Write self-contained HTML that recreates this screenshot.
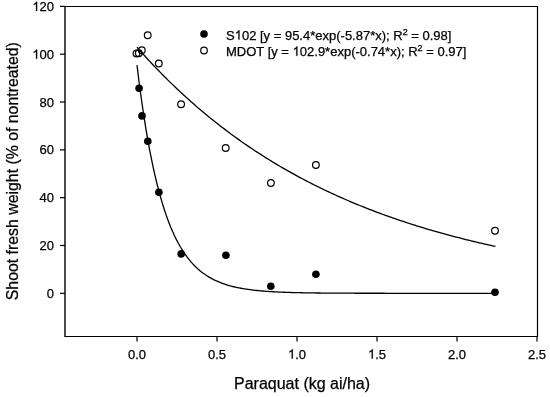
<!DOCTYPE html>
<html><head><meta charset="utf-8"><style>
html,body{margin:0;padding:0;background:#fff;width:550px;height:397px;overflow:hidden}
svg{display:block;filter:grayscale(1)}
text{font-family:"Liberation Sans",sans-serif;stroke:#000;stroke-width:0.25px}
</style></head><body>
<svg width="550" height="397" viewBox="0 0 550 397">
<rect width="550" height="397" fill="#fff"/>
<g fill="none" stroke="#000">
<line x1="65" y1="6.5" x2="537.5" y2="6.5" stroke-width="1.2"/>
<line x1="537.5" y1="6" x2="537.5" y2="336.5" stroke-width="1.2"/>
<line x1="65" y1="336.5" x2="538" y2="336.5" stroke-width="1.2"/>
<line x1="65" y1="6" x2="65" y2="337" stroke-width="1.42"/>
<line x1="60" y1="6.38" x2="65" y2="6.38" stroke-width="1.2"/>
<line x1="60" y1="54.20" x2="65" y2="54.20" stroke-width="1.2"/>
<line x1="60" y1="102.02" x2="65" y2="102.02" stroke-width="1.2"/>
<line x1="60" y1="149.84" x2="65" y2="149.84" stroke-width="1.2"/>
<line x1="60" y1="197.66" x2="65" y2="197.66" stroke-width="1.2"/>
<line x1="60" y1="245.48" x2="65" y2="245.48" stroke-width="1.2"/>
<line x1="60" y1="293.30" x2="65" y2="293.30" stroke-width="1.2"/>
<line x1="137.00" y1="336" x2="137.00" y2="341.5" stroke-width="1.2"/>
<line x1="217.00" y1="336" x2="217.00" y2="341.5" stroke-width="1.2"/>
<line x1="297.00" y1="336" x2="297.00" y2="341.5" stroke-width="1.2"/>
<line x1="377.00" y1="336" x2="377.00" y2="341.5" stroke-width="1.2"/>
<line x1="457.00" y1="336" x2="457.00" y2="341.5" stroke-width="1.2"/>
<line x1="537.00" y1="336" x2="537.00" y2="341.5" stroke-width="1.2"/>
</g>
<path d="M137.00,65.20 L138.79,79.71 L140.58,93.30 L142.38,106.03 L144.17,117.94 L145.96,129.10 L147.75,139.55 L149.54,149.33 L151.34,158.49 L153.13,167.07 L154.92,175.10 L156.71,182.62 L158.50,189.67 L160.30,196.26 L162.09,202.44 L163.88,208.22 L165.67,213.63 L167.46,218.70 L169.26,223.45 L171.05,227.89 L172.84,232.05 L174.63,235.95 L176.42,239.60 L178.22,243.02 L180.01,246.22 L181.80,249.21 L183.59,252.02 L185.38,254.64 L187.18,257.10 L188.97,259.41 L190.76,261.56 L192.55,263.58 L194.34,265.47 L196.14,267.24 L197.93,268.90 L199.72,270.45 L201.51,271.91 L203.30,273.27 L205.10,274.54 L206.89,275.74 L208.68,276.85 L210.47,277.90 L212.26,278.88 L214.06,279.80 L215.85,280.66 L217.64,281.46 L219.43,282.22 L221.22,282.92 L223.02,283.58 L224.81,284.20 L226.60,284.78 L228.39,285.32 L230.18,285.83 L231.98,286.30 L233.77,286.75 L235.56,287.17 L237.35,287.56 L239.14,287.92 L240.94,288.26 L242.73,288.58 L244.52,288.88 L246.31,289.17 L248.10,289.43 L249.90,289.67 L251.69,289.91 L253.48,290.12 L255.27,290.32 L257.06,290.51 L258.86,290.69 L260.65,290.86 L262.44,291.01 L264.23,291.16 L266.02,291.29 L267.82,291.42 L269.61,291.54 L271.40,291.65 L273.19,291.76 L274.98,291.86 L276.78,291.95 L278.57,292.03 L280.36,292.11 L282.15,292.19 L283.94,292.26 L285.74,292.33 L287.53,292.39 L289.32,292.45 L291.11,292.50 L292.90,292.55 L294.70,292.60 L296.49,292.64 L298.28,292.69 L300.07,292.72 L301.86,292.76 L303.66,292.80 L305.45,292.83 L307.24,292.86 L309.03,292.89 L310.82,292.91 L312.62,292.94 L314.41,292.96 L316.20,292.98 L317.99,293.00 L319.78,293.02 L321.58,293.04 L323.37,293.06 L325.16,293.07 L326.95,293.09 L328.74,293.10 L330.54,293.11 L332.33,293.12 L334.12,293.14 L335.91,293.15 L337.70,293.16 L339.50,293.16 L341.29,293.17 L343.08,293.18 L344.87,293.19 L346.66,293.20 L348.46,293.20 L350.25,293.21 L352.04,293.21 L353.83,293.22 L355.62,293.23 L357.42,293.23 L359.21,293.23 L361.00,293.24 L362.79,293.24 L364.58,293.25 L366.38,293.25 L368.17,293.25 L369.96,293.26 L371.75,293.26 L373.54,293.26 L375.34,293.26 L377.13,293.27 L378.92,293.27 L380.71,293.27 L382.50,293.27 L384.30,293.27 L386.09,293.28 L387.88,293.28 L389.67,293.28 L391.46,293.28 L393.26,293.28 L395.05,293.28 L396.84,293.28 L398.63,293.28 L400.42,293.29 L402.22,293.29 L404.01,293.29 L405.80,293.29 L407.59,293.29 L409.38,293.29 L411.18,293.29 L412.97,293.29 L414.76,293.29 L416.55,293.29 L418.34,293.29 L420.14,293.29 L421.93,293.29 L423.72,293.29 L425.51,293.29 L427.30,293.29 L429.10,293.29 L430.89,293.30 L432.68,293.30 L434.47,293.30 L436.26,293.30 L438.06,293.30 L439.85,293.30 L441.64,293.30 L443.43,293.30 L445.22,293.30 L447.02,293.30 L448.81,293.30 L450.60,293.30 L452.39,293.30 L454.18,293.30 L455.98,293.30 L457.77,293.30 L459.56,293.30 L461.35,293.30 L463.14,293.30 L464.94,293.30 L466.73,293.30 L468.52,293.30 L470.31,293.30 L472.10,293.30 L473.90,293.30 L475.69,293.30 L477.48,293.30 L479.27,293.30 L481.06,293.30 L482.86,293.30 L484.65,293.30 L486.44,293.30 L488.23,293.30 L490.02,293.30 L491.82,293.30 L493.61,293.30 L495.40,293.30" fill="none" stroke="#000" stroke-width="1.3"/>
<path d="M137.00,47.27 L138.79,49.30 L140.58,51.31 L142.38,53.31 L144.17,55.29 L145.96,57.25 L147.75,59.20 L149.54,61.13 L151.34,63.05 L153.13,64.95 L154.92,66.84 L156.71,68.70 L158.50,70.56 L160.30,72.40 L162.09,74.22 L163.88,76.03 L165.67,77.82 L167.46,79.60 L169.26,81.36 L171.05,83.11 L172.84,84.85 L174.63,86.57 L176.42,88.27 L178.22,89.97 L180.01,91.65 L181.80,93.31 L183.59,94.96 L185.38,96.60 L187.18,98.22 L188.97,99.83 L190.76,101.43 L192.55,103.01 L194.34,104.58 L196.14,106.14 L197.93,107.68 L199.72,109.22 L201.51,110.74 L203.30,112.24 L205.10,113.74 L206.89,115.22 L208.68,116.69 L210.47,118.15 L212.26,119.59 L214.06,121.03 L215.85,122.45 L217.64,123.86 L219.43,125.26 L221.22,126.64 L223.02,128.02 L224.81,129.38 L226.60,130.74 L228.39,132.08 L230.18,133.41 L231.98,134.73 L233.77,136.04 L235.56,137.34 L237.35,138.62 L239.14,139.90 L240.94,141.17 L242.73,142.42 L244.52,143.67 L246.31,144.90 L248.10,146.13 L249.90,147.34 L251.69,148.55 L253.48,149.74 L255.27,150.93 L257.06,152.10 L258.86,153.27 L260.65,154.42 L262.44,155.57 L264.23,156.70 L266.02,157.83 L267.82,158.95 L269.61,160.06 L271.40,161.16 L273.19,162.25 L274.98,163.33 L276.78,164.40 L278.57,165.47 L280.36,166.52 L282.15,167.57 L283.94,168.61 L285.74,169.64 L287.53,170.66 L289.32,171.67 L291.11,172.67 L292.90,173.67 L294.70,174.66 L296.49,175.64 L298.28,176.61 L300.07,177.57 L301.86,178.53 L303.66,179.47 L305.45,180.41 L307.24,181.34 L309.03,182.27 L310.82,183.18 L312.62,184.09 L314.41,184.99 L316.20,185.89 L317.99,186.77 L319.78,187.65 L321.58,188.53 L323.37,189.39 L325.16,190.25 L326.95,191.10 L328.74,191.94 L330.54,192.78 L332.33,193.61 L334.12,194.43 L335.91,195.25 L337.70,196.06 L339.50,196.86 L341.29,197.66 L343.08,198.45 L344.87,199.23 L346.66,200.00 L348.46,200.77 L350.25,201.54 L352.04,202.30 L353.83,203.05 L355.62,203.79 L357.42,204.53 L359.21,205.26 L361.00,205.99 L362.79,206.71 L364.58,207.42 L366.38,208.13 L368.17,208.84 L369.96,209.53 L371.75,210.23 L373.54,210.91 L375.34,211.59 L377.13,212.27 L378.92,212.93 L380.71,213.60 L382.50,214.26 L384.30,214.91 L386.09,215.55 L387.88,216.20 L389.67,216.83 L391.46,217.46 L393.26,218.09 L395.05,218.71 L396.84,219.33 L398.63,219.94 L400.42,220.54 L402.22,221.14 L404.01,221.74 L405.80,222.33 L407.59,222.91 L409.38,223.50 L411.18,224.07 L412.97,224.64 L414.76,225.21 L416.55,225.77 L418.34,226.33 L420.14,226.88 L421.93,227.43 L423.72,227.97 L425.51,228.51 L427.30,229.05 L429.10,229.58 L430.89,230.10 L432.68,230.63 L434.47,231.14 L436.26,231.66 L438.06,232.16 L439.85,232.67 L441.64,233.17 L443.43,233.67 L445.22,234.16 L447.02,234.65 L448.81,235.13 L450.60,235.61 L452.39,236.09 L454.18,236.56 L455.98,237.03 L457.77,237.49 L459.56,237.95 L461.35,238.41 L463.14,238.86 L464.94,239.31 L466.73,239.76 L468.52,240.20 L470.31,240.64 L472.10,241.07 L473.90,241.50 L475.69,241.93 L477.48,242.35 L479.27,242.78 L481.06,243.19 L482.86,243.61 L484.65,244.02 L486.44,244.42 L488.23,244.83 L490.02,245.23 L491.82,245.62 L493.61,246.02 L495.40,246.41" fill="none" stroke="#000" stroke-width="1.3"/>
<circle cx="147.7" cy="35.3" r="3.35" fill="none" stroke="#000" stroke-width="1.2"/>
<circle cx="136.5" cy="53.5" r="3.35" fill="none" stroke="#000" stroke-width="1.2"/>
<circle cx="138.8" cy="53.2" r="3.35" fill="none" stroke="#000" stroke-width="1.2"/>
<circle cx="141.8" cy="50.2" r="3.35" fill="none" stroke="#000" stroke-width="1.2"/>
<circle cx="158.8" cy="63.5" r="3.35" fill="none" stroke="#000" stroke-width="1.2"/>
<circle cx="181.1" cy="104.3" r="3.35" fill="none" stroke="#000" stroke-width="1.2"/>
<circle cx="225.7" cy="148.0" r="3.35" fill="none" stroke="#000" stroke-width="1.2"/>
<circle cx="270.9" cy="183.05" r="3.35" fill="none" stroke="#000" stroke-width="1.2"/>
<circle cx="315.9" cy="165.05" r="3.35" fill="none" stroke="#000" stroke-width="1.2"/>
<circle cx="495.0" cy="230.8" r="3.35" fill="none" stroke="#000" stroke-width="1.2"/>
<circle cx="139.1" cy="88.2" r="3.8" fill="#000"/>
<circle cx="142.0" cy="115.9" r="3.8" fill="#000"/>
<circle cx="147.8" cy="141.3" r="3.8" fill="#000"/>
<circle cx="158.9" cy="192.2" r="3.8" fill="#000"/>
<circle cx="181.2" cy="253.9" r="3.8" fill="#000"/>
<circle cx="225.9" cy="255.3" r="3.8" fill="#000"/>
<circle cx="270.8" cy="286.2" r="3.8" fill="#000"/>
<circle cx="315.9" cy="274.25" r="3.8" fill="#000"/>
<circle cx="495.0" cy="292.2" r="3.8" fill="#000"/>
<g font-family="Liberation Sans, sans-serif" font-size="13" fill="#000">
<text class="h1" x="54" y="10.98" text-anchor="end">&#8199;20</text>
<text class="h1" x="54" y="58.80" text-anchor="end">&#8199;00</text>
<text class="h1" x="54" y="106.62" text-anchor="end">80</text>
<text class="h1" x="54" y="154.44" text-anchor="end">60</text>
<text class="h1" x="54" y="202.26" text-anchor="end">40</text>
<text class="h1" x="54" y="250.08" text-anchor="end">20</text>
<text class="h1" x="54" y="297.90" text-anchor="end">0</text>
<text class="h1" x="137.00" y="358.5" text-anchor="middle">0.0</text>
<text class="h1" x="217.00" y="358.5" text-anchor="middle">0.5</text>
<text class="h1" x="297.00" y="358.5" text-anchor="middle">&#8199;.0</text>
<text class="h1" x="377.00" y="358.5" text-anchor="middle">&#8199;.5</text>
<text class="h1" x="457.00" y="358.5" text-anchor="middle">2.0</text>
<text class="h1" x="537.00" y="358.5" text-anchor="middle">2.5</text>
</g>
<g font-family="Liberation Sans, sans-serif" font-size="13" fill="#000">
<circle cx="204" cy="34" r="3.8" fill="#000"/>
<circle cx="204" cy="50.5" r="3.3" fill="none" stroke="#000" stroke-width="1.2"/>
<text class="h1" x="226" y="39.5">S&#8199;02 [y = 95.4*exp(-5.87*x); R<tspan font-size="9" dy="-5">2</tspan><tspan dy="5"> = 0.98]</tspan></text>
<text class="h1" x="226" y="55.8">MDOT [y = &#8199;02.9*exp(-0.74*x); R<tspan font-size="9" dy="-5">2</tspan><tspan dy="5"> = 0.97]</tspan></text>
</g>
<text x="234" y="388.5" font-family="Liberation Sans, sans-serif" font-size="16">Paraquat (kg ai/ha)</text>
<text transform="translate(17.5,300.2) rotate(-90)" x="0" y="0" font-family="Liberation Sans, sans-serif" font-size="15.85">Shoot fresh weight (% of nontreated)</text>
<path transform="translate(32.297,10.980) scale(0.006348,-0.006348)" d="M763,0 L583,0 L583,1147 Q518,1085 412,1023 Q306,961 223,932 L223,1106 Q372,1176 484,1276 Q596,1376 642,1466 L763,1466 Z" fill="#000" stroke="#000" stroke-width="0.25" vector-effect="non-scaling-stroke"/>
<path transform="translate(32.297,58.800) scale(0.006348,-0.006348)" d="M763,0 L583,0 L583,1147 Q518,1085 412,1023 Q306,961 223,932 L223,1106 Q372,1176 484,1276 Q596,1376 642,1466 L763,1466 Z" fill="#000" stroke="#000" stroke-width="0.25" vector-effect="non-scaling-stroke"/>
<path transform="translate(287.961,358.500) scale(0.006348,-0.006348)" d="M763,0 L583,0 L583,1147 Q518,1085 412,1023 Q306,961 223,932 L223,1106 Q372,1176 484,1276 Q596,1376 642,1466 L763,1466 Z" fill="#000" stroke="#000" stroke-width="0.25" vector-effect="non-scaling-stroke"/>
<path transform="translate(367.961,358.500) scale(0.006348,-0.006348)" d="M763,0 L583,0 L583,1147 Q518,1085 412,1023 Q306,961 223,932 L223,1106 Q372,1176 484,1276 Q596,1376 642,1466 L763,1466 Z" fill="#000" stroke="#000" stroke-width="0.25" vector-effect="non-scaling-stroke"/>
<path transform="translate(234.656,39.500) scale(0.006348,-0.006348)" d="M763,0 L583,0 L583,1147 Q518,1085 412,1023 Q306,961 223,932 L223,1106 Q372,1176 484,1276 Q596,1376 642,1466 L763,1466 Z" fill="#000" stroke="#000" stroke-width="0.25" vector-effect="non-scaling-stroke"/>
<path transform="translate(292.562,55.800) scale(0.006348,-0.006348)" d="M763,0 L583,0 L583,1147 Q518,1085 412,1023 Q306,961 223,932 L223,1106 Q372,1176 484,1276 Q596,1376 642,1466 L763,1466 Z" fill="#000" stroke="#000" stroke-width="0.25" vector-effect="non-scaling-stroke"/>
</svg>
</body></html>
